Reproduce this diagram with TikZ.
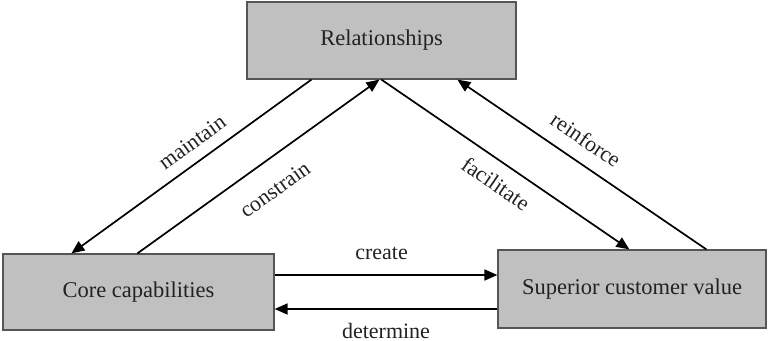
\documentclass[tikz,border=0pt]{standalone}
\usepackage{fontspec}
\setmainfont{Liberation Serif}
\usetikzlibrary{arrows.meta}
\definecolor{boxfill}{HTML}{C0C0C0}
\definecolor{boxline}{HTML}{555555}
\definecolor{ink}{HTML}{222222}
\begin{document}
\begin{tikzpicture}[x=1pt,y=-1pt,
  block/.style={draw=boxline, line width=1.2pt, fill=boxfill, inner sep=0pt,
    text=ink, font=\fontsize{22.5}{27}\selectfont},
  link/.style={line width=1.7pt, -{Triangle[length=13pt,width=11pt]}},
  lbl/.style={font=\fontsize{22}{26}\selectfont, text=ink, inner sep=0pt}]
  \useasboundingbox (0,0) rectangle (768,340);

  % the three concepts
  \node[block, minimum width=269pt, minimum height=77pt] (rel) at (381.5,40.5) {Relationships};
  \node[block, minimum width=271pt, minimum height=76pt] (core) at (138.5,292) {Core capabilities};
  \node[block, minimum width=268pt, minimum height=78pt] (scv) at (632,289) {Superior customer value};

  % relationships <-> core capabilities
  \draw[link] ([xshift=65pt]rel.south west) --
    node[lbl, sloped, pos=0.45, above=11pt] {maintain}
    ([xshift=69pt]core.north west);
  \draw[link] ([xshift=135pt]core.north west) --
    node[lbl, sloped, pos=0.5, below=20pt] {constrain}
    ([xshift=133pt]rel.south west);

  % relationships <-> superior customer value
  \draw[link] ([xshift=135pt]rel.south west) --
    node[lbl, sloped, pos=0.51, below=12.5pt] {facilitate}
    ([xshift=132pt]scv.north west);
  \draw[link] ([xshift=209pt]scv.north west) --
    node[lbl, sloped, pos=0.535, above=14pt] {reinforce}
    ([xshift=211pt]rel.south west);

  % core capabilities <-> superior customer value
  \draw[link] ([yshift=17pt]core.east) --
    node[lbl, pos=0.48, above=14.5pt] {create}
    ([yshift=17pt]core.east -| scv.west);
  \draw[link] ([yshift=-20pt]scv.west) --
    node[lbl, pos=0.5, below=13pt] {determine}
    ([yshift=-20pt]scv.west -| core.east);
\end{tikzpicture}
\end{document}
